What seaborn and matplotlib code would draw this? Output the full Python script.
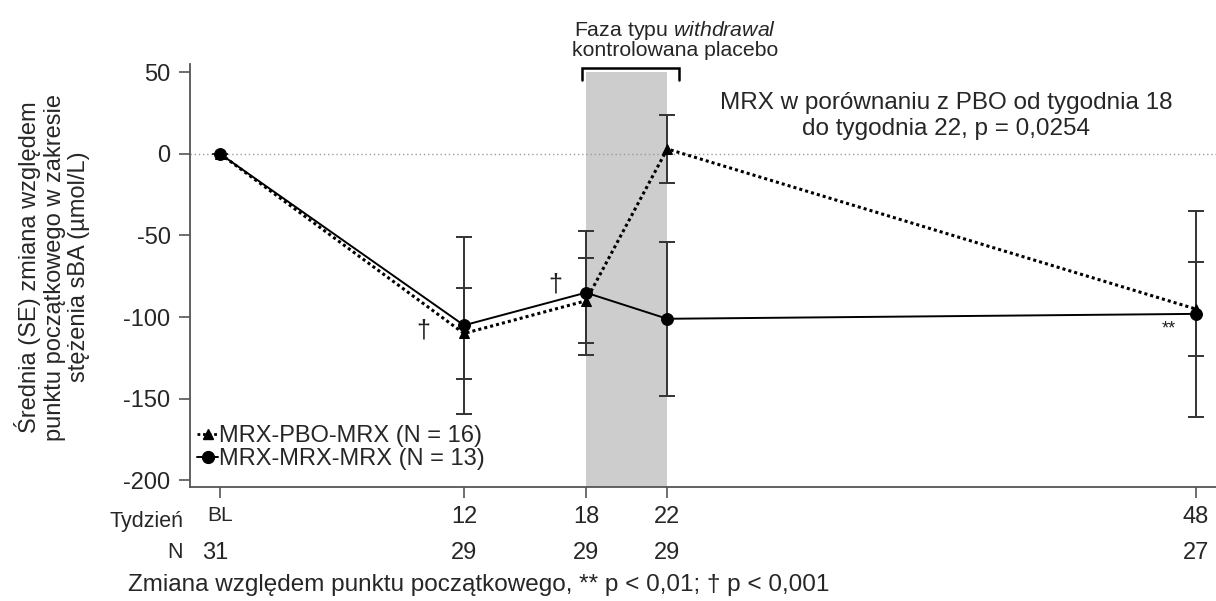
import matplotlib

matplotlib.use("Agg")
import matplotlib.pyplot as plt
import matplotlib.transforms as mtransforms
import seaborn as sns
from matplotlib.lines import Line2D

# ============================================================
# Data
# ============================================================
WEEKS = [0, 12, 18, 22, 48]
WEEK_LABELS = ["BL", "12", "18", "22", "48"]
N_PATIENTS = ["31", "29", "29", "29", "27"]

PBO_LABEL = "MRX-PBO-MRX (N = 16)"
PBO_MEAN = [0, -110, -90, 3, -95]
PBO_SE = [0, 28, 26, 21, 29]

MRX_LABEL = "MRX-MRX-MRX (N = 13)"
MRX_MEAN = [0, -105, -85, -101, -98]
MRX_SE = [0, 54, 38, 47, 63]

# znaczniki istotnosci: (tydzien, y, tekst)
SIG_WEEKS = [10.0, 16.5, 46.7]
SIG_Y = [-108, -80, -107]
SIG_TEXT = ["†", "†", "**"]

FONT = "Liberation Sans"

sns.set_theme(style="white")
plt.rcParams["font.family"] = [FONT, "DejaVu Sans"]
plt.rcParams["axes.unicode_minus"] = False
plt.rcParams["mathtext.fontset"] = "custom"
plt.rcParams["mathtext.rm"] = FONT
plt.rcParams["mathtext.it"] = FONT + ":italic"

fig = plt.figure(figsize=(12.16, 6.01), dpi=100)
ax = fig.add_axes([190 / 1216, 1 - 487 / 601, 1026 / 1216, 423 / 601])

# szara faza withdrawal + linia zera
ax.fill_between([18, 22], -204, 50, color="#cdcdcd", lw=0, zorder=0)
ax.axhline(0, color="#9a9a9a", ls=(0, (1, 2)), lw=1, zorder=1)

# slupki bledu (SE)
for mean, se in [(PBO_MEAN, PBO_SE), (MRX_MEAN, MRX_SE)]:
    ax.errorbar(WEEKS, mean, yerr=se, fmt="none", ecolor="#333333",
                elinewidth=1.4, capsize=6, capthick=1.4, zorder=2)

sns.lineplot(x=WEEKS, y=PBO_MEAN, ax=ax, color="black", marker="^",
             markersize=7.5, markeredgecolor="black", linestyle=(0, (1, 1)),
             lw=2.2, zorder=3)
sns.lineplot(x=WEEKS, y=MRX_MEAN, ax=ax, color="black", marker="o",
             markersize=8.5, markeredgecolor="black", lw=1.4, zorder=4)

for wx, wy, txt in zip(SIG_WEEKS, SIG_Y, SIG_TEXT):
    ax.text(wx, wy, txt, ha="center", va="center",
            fontsize=18 if txt == "†" else 13, color="#222222")

ax.set_xlim(-1.48, 49.0)
ax.set_ylim(-204, 55)
ax.set_yticks([50, 0, -50, -100, -150, -200])
ax.set_xticks(WEEKS)
ax.set_xticklabels(WEEK_LABELS)
ax.tick_params(axis="y", labelsize=17, length=8, width=1.2, pad=6,
               color="#555555", left=True)
ax.tick_params(axis="x", labelsize=17, length=8, width=1.2, pad=6,
               color="#555555", bottom=True)
ax.get_xticklabels()[0].set_fontsize(15)
for side in ["top", "right"]:
    ax.spines[side].set_visible(False)
for side in ["left", "bottom"]:
    ax.spines[side].set_color("#555555")
    ax.spines[side].set_linewidth(1.3)

fig.text(52 / 1216, 1 - 267 / 601,
         "Średnia (SE) zmiana względem\npunktu początkowego w zakresie\nstężenia sBA (µmol/L)",
         rotation=90, ha="center", va="center", fontsize=17, linespacing=1.15)

# wiersz N pod osia
trans = mtransforms.blended_transform_factory(ax.transData, fig.transFigure)
for wx, n in zip(WEEKS, N_PATIENTS):
    fig.text(wx - (0.25 if wx == 0 else 0), 1 - 553 / 601, n, transform=trans,
             ha="center", va="center", fontsize=17)
fig.text(183 / 1216, 1 - 521 / 601, "Tydzień", ha="right", va="center", fontsize=15.5)
fig.text(183 / 1216, 1 - 552 / 601, "N", ha="right", va="center", fontsize=15.5)

# nawias i opis fazy
ax.plot([17.8, 17.8, 22.6, 22.6], [45, 52.5, 52.5, 45], color="black", lw=1.8,
        clip_on=False, solid_joinstyle="miter")
fig.text(675 / 1216, 1 - 31 / 601, r"Faza typu $withdrawal$", ha="center",
         va="center", fontsize=15.3)
fig.text(675 / 1216, 1 - 51 / 601, "kontrolowana placebo", ha="center",
         va="center", fontsize=15.3)

fig.text(946 / 1216, 1 - 116 / 601,
         "MRX w porównaniu z PBO od tygodnia 18\ndo tygodnia 22, p = 0,0254",
         ha="center", va="center", fontsize=17.5, linespacing=1.2)

handles = [
    Line2D([], [], color="black", marker="^", markersize=7.5, linestyle=(0, (1, 1)), lw=2),
    Line2D([], [], color="black", marker="o", markersize=8.5, lw=1.4),
]
ax.legend(handles, [PBO_LABEL, MRX_LABEL], loc="upper left",
          bbox_to_anchor=(197 / 1216, 1 - 425 / 601), bbox_transform=fig.transFigure,
          frameon=False, fontsize=17, handlelength=0.9, handletextpad=0.05,
          borderpad=0, borderaxespad=0, labelspacing=0.05)

fig.text(128 / 1216, 1 - 585 / 601,
         "Zmiana względem punktu początkowego, ** p < 0,01; † p < 0,001",
         ha="left", va="center", fontsize=17.5)

fig.savefig("out.png", dpi=100)
plt.close(fig)
